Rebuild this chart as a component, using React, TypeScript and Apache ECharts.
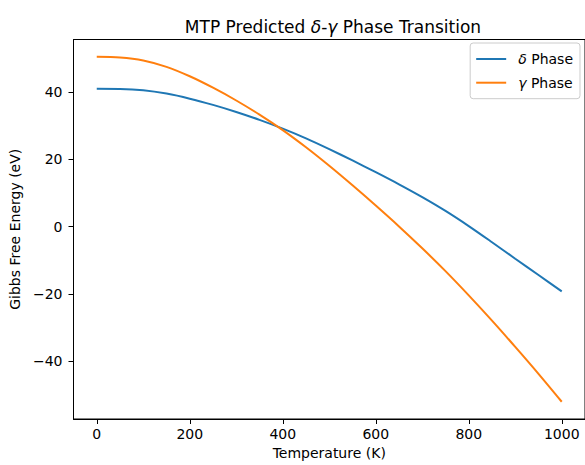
import React, { useEffect, useRef } from "react";
import * as echarts from "echarts";

const temperatures = [0, 50, 100, 150, 200, 250, 300, 350, 400, 450, 500, 550, 600, 650, 700, 750, 800, 850, 900, 950, 1000];
const deltaPhase = [41.0, 40.95, 40.55, 39.55, 38.05, 36.2, 34.1, 31.75, 29.15, 26.25, 23.05, 19.7, 16.2, 12.6, 8.8, 4.7, 0.2, -4.6, -9.5, -14.35, -19.2];
const gammaPhase = [50.5, 50.3, 49.4, 47.5, 44.7, 41.3, 37.5, 33.3, 28.7, 23.6, 18.1, 12.3, 6.3, 0.1, -6.4, -13.2, -20.4, -27.9, -35.7, -43.7, -52.0];
const xTicks = [0, 200, 400, 600, 800, 1000];
const yTicks = [-40, -20, 0, 20, 40];
const seriesNames = ["δ Phase", "γ Phase"];

const FONT = "DejaVu Sans";

export default function App() {
  const ref = useRef<HTMLDivElement>(null);
  useEffect(() => {
    if (!ref.current) return;
    const chart = echarts.init(ref.current, undefined, { renderer: "svg" });
    const all = deltaPhase.concat(gammaPhase);
    const dMin = Math.min(...all);
    const dMax = Math.max(...all);
    const pad = (dMax - dMin) * 0.05;
    const minus = (v: number) => String(v).replace("-", "\u2212");
    chart.setOption({
      animation: false,
      backgroundColor: "#ffffff",
      textStyle: { fontFamily: FONT },
      title: {
        text: "MTP Predicted {i|δ}-{i|γ} Phase Transition",
        left: 328,
        textAlign: "center",
        top: 13,
        textStyle: {
          fontFamily: FONT,
          fontSize: 17,
          fontWeight: "normal",
          color: "#000",
          rich: {
            i: { fontFamily: FONT, fontSize: 17, fontStyle: "italic", color: "#000" },
          },
        },
      },
      legend: {
        orient: "vertical",
        right: 5,
        top: 43,
        padding: [9, 7, 9, 5],
        itemWidth: 30,
        itemHeight: 14,
        itemGap: 9.7,
        borderColor: "#cccccc",
        borderWidth: 1,
        borderRadius: 3,
        backgroundColor: "rgba(255,255,255,0.8)",
        itemStyle: { opacity: 0 },
        data: seriesNames,
        formatter: (name: string) => "{i|" + name[0] + "}{n|" + name.slice(1) + "}",
        textStyle: {
          fontFamily: FONT,
          fontSize: 14,
          color: "#000",
          rich: {
            i: { fontFamily: FONT, fontSize: 14, fontStyle: "italic", color: "#000", padding: [0, 0, 0, 7] },
            n: { fontFamily: FONT, fontSize: 14, color: "#000" },
          },
        },
      },
      grid: {
        left: 73.5,
        top: 39.5,
        width: 513.3,
        height: 383,
        show: true,
        borderColor: "#000",
        borderWidth: 1,
        backgroundColor: "transparent",
      },
      xAxis: {
        type: "value",
        min: -50,
        max: 1050,
        name: "Temperature (K)",
        nameLocation: "middle",
        nameGap: 27,
        nameTextStyle: { fontFamily: FONT, fontSize: 14, color: "#000" },
        axisLine: { show: true, onZero: false, lineStyle: { color: "#000", width: 1 } },
        axisTick: { show: true, length: 5, lineStyle: { color: "#000" }, customValues: xTicks },
        axisLabel: {
          fontFamily: FONT,
          fontSize: 14,
          color: "#000",
          margin: 8,
          customValues: xTicks,
          formatter: (v: number) => minus(v),
        },
        splitLine: { show: false },
      },
      yAxis: {
        type: "value",
        min: dMin - pad,
        max: dMax + pad,
        name: "Gibbs Free Energy (eV)",
        nameLocation: "middle",
        nameGap: 48,
        nameTextStyle: { fontFamily: FONT, fontSize: 14, color: "#000" },
        axisLine: { show: true, onZero: false, lineStyle: { color: "#000", width: 1 } },
        axisTick: { show: true, length: 5, lineStyle: { color: "#000" }, customValues: yTicks },
        axisLabel: {
          fontFamily: FONT,
          fontSize: 14,
          color: "#000",
          margin: 11,
          customValues: yTicks,
          formatter: (v: number) => minus(v),
        },
        splitLine: { show: false },
      },
      series: [
        {
          name: seriesNames[0],
          type: "line",
          data: temperatures.map((t, i) => [t, deltaPhase[i]]),
          showSymbol: false,
          symbol: "none",
          smooth: 0.3,
          color: "#1f77b4",
          lineStyle: { color: "#1f77b4", width: 2 },
        },
        {
          name: seriesNames[1],
          type: "line",
          data: temperatures.map((t, i) => [t, gammaPhase[i]]),
          showSymbol: false,
          symbol: "none",
          smooth: 0.3,
          color: "#ff7f0e",
          lineStyle: { color: "#ff7f0e", width: 2 },
        },
      ],
    });
    return () => chart.dispose();
  }, []);
  return (
    <div
      ref={ref}
      style={{ position: "fixed", left: 0, top: 0, width: 585, height: 465, background: "#fff" }}
    />
  );
}
